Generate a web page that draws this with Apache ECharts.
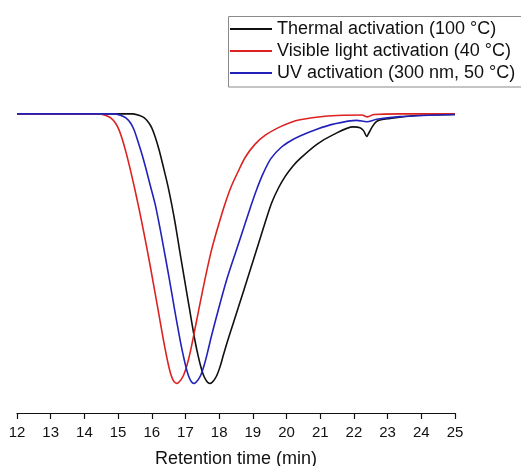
<!DOCTYPE html>
<html>
<head>
<meta charset="utf-8">
<script src="https://cdn.jsdelivr.net/npm/echarts@6/dist/echarts.min.js"></script>
<style>
html,body{margin:0;padding:0;background:#fff;}
#c{width:521px;height:466px;}
</style>
</head>
<body>
<div id="c"></div>
<script>
// Retention time (min) vs normalized detector response
const seriesNames = ['Thermal activation (100 °C)', 'Visible light activation (40 °C)', 'UV activation (300 nm, 50 °C)'];
const xTicks = [12,13,14,15,16,17,18,19,20,21,22,23,24,25];

const thermal = [
  [12,0],[13,0],[14,0],[15,0],[15.44,0],[15.64,-0.006],[15.78,-0.015],[15.90,-0.031],[16.00,-0.052],
  [16.10,-0.085],[16.22,-0.135],[16.35,-0.200],[16.48,-0.268],[16.59,-0.335],[16.71,-0.417],
  [16.82,-0.502],[16.97,-0.613],[17.12,-0.724],[17.28,-0.840],[17.38,-0.900],[17.46,-0.940],
  [17.53,-0.968],[17.60,-0.986],[17.66,-0.996],[17.73,-1.0],[17.79,-0.996],[17.86,-0.986],
  [17.94,-0.968],[18.03,-0.937],[18.13,-0.893],[18.25,-0.843],[18.40,-0.784],[18.58,-0.714],
  [18.87,-0.600],[19.16,-0.485],[19.36,-0.405],[19.56,-0.330],[19.76,-0.275],[19.96,-0.232],
  [20.18,-0.195],[20.40,-0.166],[20.90,-0.113],[21.39,-0.077],[21.98,-0.048],[22.18,-0.051],
  [22.29,-0.063],[22.38,-0.084],[22.45,-0.069],[22.53,-0.051],[22.68,-0.027],[23.07,-0.017],
  [23.86,-0.006],[25,-0.002]
];
const visible = [
  [12,0],[13,0],[14,0],[14.46,0],[14.64,-0.006],[14.79,-0.016],[14.92,-0.034],[15.03,-0.060],
  [15.12,-0.092],[15.23,-0.140],[15.36,-0.205],[15.48,-0.270],[15.61,-0.345],[15.74,-0.425],
  [15.87,-0.508],[16.02,-0.610],[16.18,-0.722],[16.34,-0.835],[16.44,-0.900],[16.51,-0.940],
  [16.57,-0.968],[16.63,-0.987],[16.68,-0.996],[16.74,-1.0],[16.80,-0.996],[16.87,-0.986],
  [16.95,-0.968],[17.04,-0.935],[17.14,-0.885],[17.26,-0.812],[17.39,-0.730],[17.58,-0.613],
  [17.78,-0.502],[17.97,-0.417],[18.17,-0.335],[18.35,-0.272],[18.57,-0.212],[18.78,-0.160],
  [19.06,-0.113],[19.36,-0.080],[19.76,-0.051],[20.10,-0.033],[20.40,-0.022],[21.14,-0.009],
  [21.74,-0.005],[22.24,-0.004],[22.40,-0.011],[22.60,-0.002],[23.37,0],[25,0]
];
const uv = [
  [12,0],[13,0],[14,0],[14.5,0],[14.91,0],[15.09,-0.006],[15.24,-0.016],[15.37,-0.034],[15.47,-0.058],
  [15.56,-0.090],[15.68,-0.138],[15.81,-0.195],[15.95,-0.263],[16.10,-0.335],[16.23,-0.415],
  [16.36,-0.502],[16.52,-0.612],[16.68,-0.728],[16.85,-0.845],[16.95,-0.905],[17.02,-0.942],
  [17.09,-0.972],[17.15,-0.989],[17.20,-0.997],[17.25,-1.0],[17.31,-0.996],[17.38,-0.986],
  [17.46,-0.968],[17.55,-0.935],[17.65,-0.888],[17.77,-0.825],[17.98,-0.725],[18.23,-0.613],
  [18.52,-0.502],[18.72,-0.426],[18.92,-0.350],[19.10,-0.285],[19.31,-0.220],[19.54,-0.165],
  [19.86,-0.122],[20.15,-0.098],[20.40,-0.082],[20.90,-0.057],[21.39,-0.038],[22.08,-0.024],
  [22.38,-0.029],[22.68,-0.020],[23.37,-0.010],[25,-0.002]
];

const colors = ['#111111', '#dd2222', '#2222bb'];
const font = 'Liberation Sans, Arial, sans-serif';

const chart = echarts.init(document.getElementById('c'));
chart.setOption({
  animation: false,
  backgroundColor: '#fff',
  color: colors,
  graphic: [{
    type: 'rect', silent: true, z: 0,
    shape: { x: 228.5, y: 16.5, width: 320, height: 70.5 },
    style: { fill: 'none', stroke: '#8a8a8a', lineWidth: 1 }
  }],
  legend: {
    orient: 'vertical',
    left: 228,
    top: 16,
    padding: [4, 0, 5, 2],
    icon: 'rect',
    itemWidth: 42,
    itemHeight: 2,
    itemGap: 4,
    textStyle: { fontFamily: font, fontSize: 18, color: '#111', lineHeight: 18 },
    data: seriesNames
  },
  grid: { left: 17, right: 66, top: 60, bottom: 53, outerBoundsMode: 'none' },
  xAxis: {
    type: 'value',
    min: 12, max: 25, interval: 1,
    name: 'Retention time (min)',
    nameLocation: 'middle',
    nameGap: 37,
    nameTextStyle: { fontFamily: font, fontSize: 18, color: '#111' },
    axisLine: { show: true, onZero: false, lineStyle: { color: '#111', width: 1.2 } },
    axisTick: { show: true, inside: false, length: 6, lineStyle: { color: '#111', width: 1.2 } },
    axisLabel: { fontFamily: font, fontSize: 15, color: '#111', margin: 12,
      formatter: v => xTicks.includes(v) ? String(v) : '' },
    splitLine: { show: false }
  },
  yAxis: {
    type: 'value', min: -1.11, max: 0.2, show: false,
    splitLine: { show: false }
  },
  series: [
    { name: seriesNames[0], type: 'line', data: thermal, showSymbol: false, symbol: 'none', smooth: 0.3,
      lineStyle: { width: 1.6, color: colors[0] } },
    { name: seriesNames[1], type: 'line', data: visible, showSymbol: false, symbol: 'none', smooth: 0.3,
      lineStyle: { width: 1.6, color: colors[1] } },
    { name: seriesNames[2], type: 'line', data: uv, showSymbol: false, symbol: 'none', smooth: 0.3,
      lineStyle: { width: 1.6, color: colors[2] } }
  ]
});
</script>
</body>
</html>
